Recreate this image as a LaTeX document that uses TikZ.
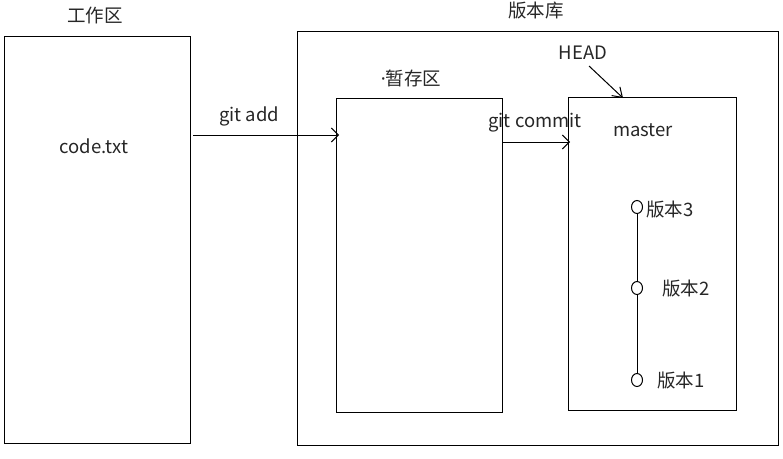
\documentclass[tikz,border=0pt]{standalone}
\usepackage{fontspec}
\setmainfont{Noto Sans CJK SC}
\newfontfamily\latinfont{Noto Sans}
\usetikzlibrary{arrows.meta,shapes.geometric}
\begin{document}
\begin{tikzpicture}[x=1pt,y=-1pt,
  box/.style={draw=black,line width=1pt},
  lbl/.style={inner sep=0pt,font=\fontsize{18.5}{22}\selectfont,text=black!85},
  arr/.style={draw=black,line width=1pt,-{Straight Barb[length=7pt,width=14pt]}},
  ver/.style={draw=black,line width=1pt,ellipse,minimum width=11pt,minimum height=13pt,inner sep=0pt,fill=white}]
\useasboundingbox (0,0) rectangle (783,458);
\draw[box] (4,36) rectangle (190,443);
\draw[box] (297,31) rectangle (778,445);
\draw[box] (336,98) rectangle (502,412);
\draw[box] (568,97) rectangle (736,410);
\node[lbl] (wk) at (95,15) {工作区};
\node[lbl] (repo) at (536,10) {版本库};
\node[lbl] (stage) at (411,78) {{\latinfont ·}暂存区};
\node[lbl] (head) at (583,53) {HEAD};
\node[lbl] (master) at (643,130) {master};
\node[lbl] (code) at (94,146) {code.txt};
\node[lbl] (addl) at (249,116) {git add};
\node[lbl] (coml) at (535,123) {git commit};
\coordinate (a1) at (193,135);
\coordinate (a2) at (339,135);
\coordinate (c1) at (502,142);
\coordinate (c2) at (570,142);
\coordinate (h1) at (589,66);
\coordinate (h2) at (623,98);
\draw[arr] (a1) -- (a2);
\draw[arr] (c1) -- (c2);
\draw[arr,-{Straight Barb[length=9pt,width=12pt]}] (h1) -- (h2);
\node[ver] (v3) at (637,207) {};
\node[ver] (v2) at (637,288) {};
\node[ver] (v1) at (637,380) {};
\draw[line width=1pt] (v3) -- (v2) -- (v1);
\node[lbl] (t3) at (670,209) {版本3};
\node[lbl] (t2) at (686,288) {版本2};
\node[lbl] (t1) at (681,380) {版本1};
\end{tikzpicture}
\end{document}
